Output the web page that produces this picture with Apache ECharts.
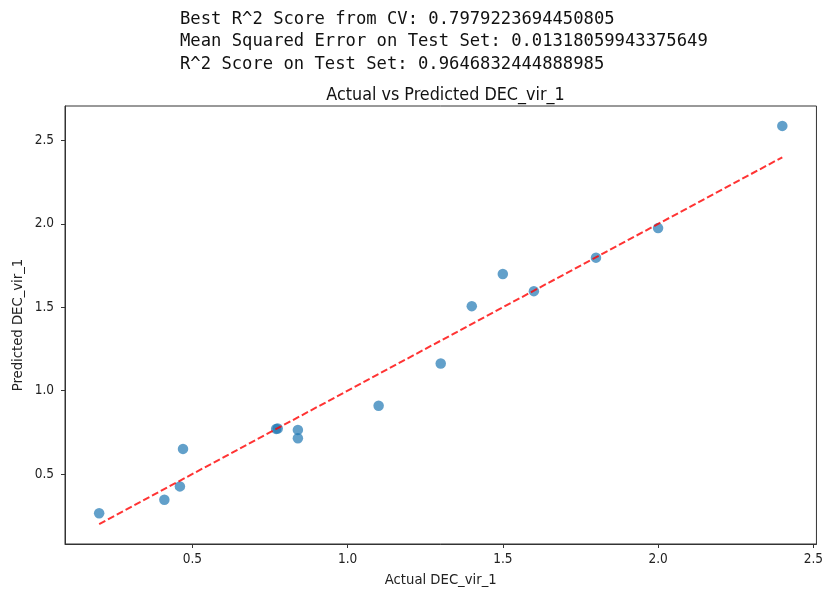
<!DOCTYPE html>
<html>
<head>
<meta charset="utf-8">
<script src="https://cdn.jsdelivr.net/npm/echarts@6/dist/echarts.min.js"></script>
<style>html,body{margin:0;padding:0;background:#fff}#c{width:826px;height:593px}</style>
</head>
<body>
<div id="c"></div>
<script>
const headerLines = [
  'Best R^2 Score from CV: 0.7979223694450805',
  'Mean Squared Error on Test Set: 0.01318059943375649',
  'R^2 Score on Test Set: 0.9646832444888985'
];
const chartTitle = 'Actual vs Predicted DEC_vir_1';
const xLabel = 'Actual DEC_vir_1';
const yLabel = 'Predicted DEC_vir_1';
const actual =    [0.20, 0.41, 0.46, 0.47, 0.77, 0.775, 0.84, 0.84, 1.10, 1.30, 1.40, 1.50, 1.60, 1.80, 2.00, 2.40];
const predicted = [0.265, 0.346, 0.426, 0.651, 0.771, 0.773, 0.765, 0.715, 0.910, 1.163, 1.507, 1.700, 1.597, 1.798, 1.975, 2.588];
const xTicks = [0.5, 1.0, 1.5, 2.0, 2.5];
const yTicks = [0.5, 1.0, 1.5, 2.0, 2.5];

const lo = Math.min(...actual), hi = Math.max(...actual);
const idealLine = [[lo, lo], [hi, hi]];
const xs = actual.concat([lo, hi]);
const ys = predicted.concat([lo, hi]);
function lim(arr) {
  const a = Math.min(...arr), b = Math.max(...arr), m = (b - a) * 0.05;
  return [a - m, b + m];
}
const xl = lim(xs), yl = lim(ys);

const SANS = "'DejaVu Sans Condensed', 'Liberation Sans', sans-serif";
const chart = echarts.init(document.getElementById('c'));
const axisCommon = {
  axisLine: { show: true, lineStyle: { color: '#333', width: 1 } },
  axisTick: { show: true, length: 4, lineStyle: { color: '#333' } },
  splitLine: { show: false },
  axisLabel: { color: '#222', fontFamily: SANS, fontSize: 13.5, formatter: v => v.toFixed(1), showMinLabel: true, showMaxLabel: true, hideOverlap: false },
  nameTextStyle: { color: '#222', fontFamily: SANS, fontSize: 14.7 },
  nameMoveOverlap: false
};
chart.setOption({
  animation: false,
  backgroundColor: '#fff',
  title: [
    { text: headerLines.join('\n'), left: 175, top: 3,
      textStyle: { fontFamily: 'DejaVu Sans Mono', fontSize: 17.2, fontWeight: 'normal', color: '#111', lineHeight: 22.5 } },
    { text: chartTitle, left: 440.5, top: 81.5, textAlign: 'center',
      textStyle: { fontFamily: SANS, fontSize: 17.8, fontWeight: 'normal', color: '#111' } }
  ],
  grid: { left: 65, right: 6, top: 106, bottom: 47, show: true, borderColor: '#333', borderWidth: 1, containLabel: false },
  xAxis: Object.assign({}, axisCommon, {
    type: 'value', min: xl[0], max: xl[1],
    name: xLabel, nameLocation: 'middle', nameGap: 29,
    axisTick: Object.assign({}, axisCommon.axisTick, { customValues: xTicks }),
    axisLabel: Object.assign({}, axisCommon.axisLabel, { customValues: xTicks, margin: 8 })
  }),
  yAxis: Object.assign({}, axisCommon, {
    type: 'value', min: yl[0], max: yl[1],
    name: yLabel, nameLocation: 'middle', nameGap: 39,
    axisTick: Object.assign({}, axisCommon.axisTick, { customValues: yTicks }),
    axisLabel: Object.assign({}, axisCommon.axisLabel, { customValues: yTicks, margin: 11 })
  }),
  series: [
    { type: 'scatter', data: actual.map((a, i) => [a, predicted[i]]), symbolSize: 10.5,
      itemStyle: { color: '#1f77b4', opacity: 0.7 } },
    { type: 'line', data: idealLine, symbol: 'none',
      lineStyle: { color: '#ff0000', opacity: 0.8, width: 2, type: [7, 3] } }
  ]
});
</script>
</body>
</html>
